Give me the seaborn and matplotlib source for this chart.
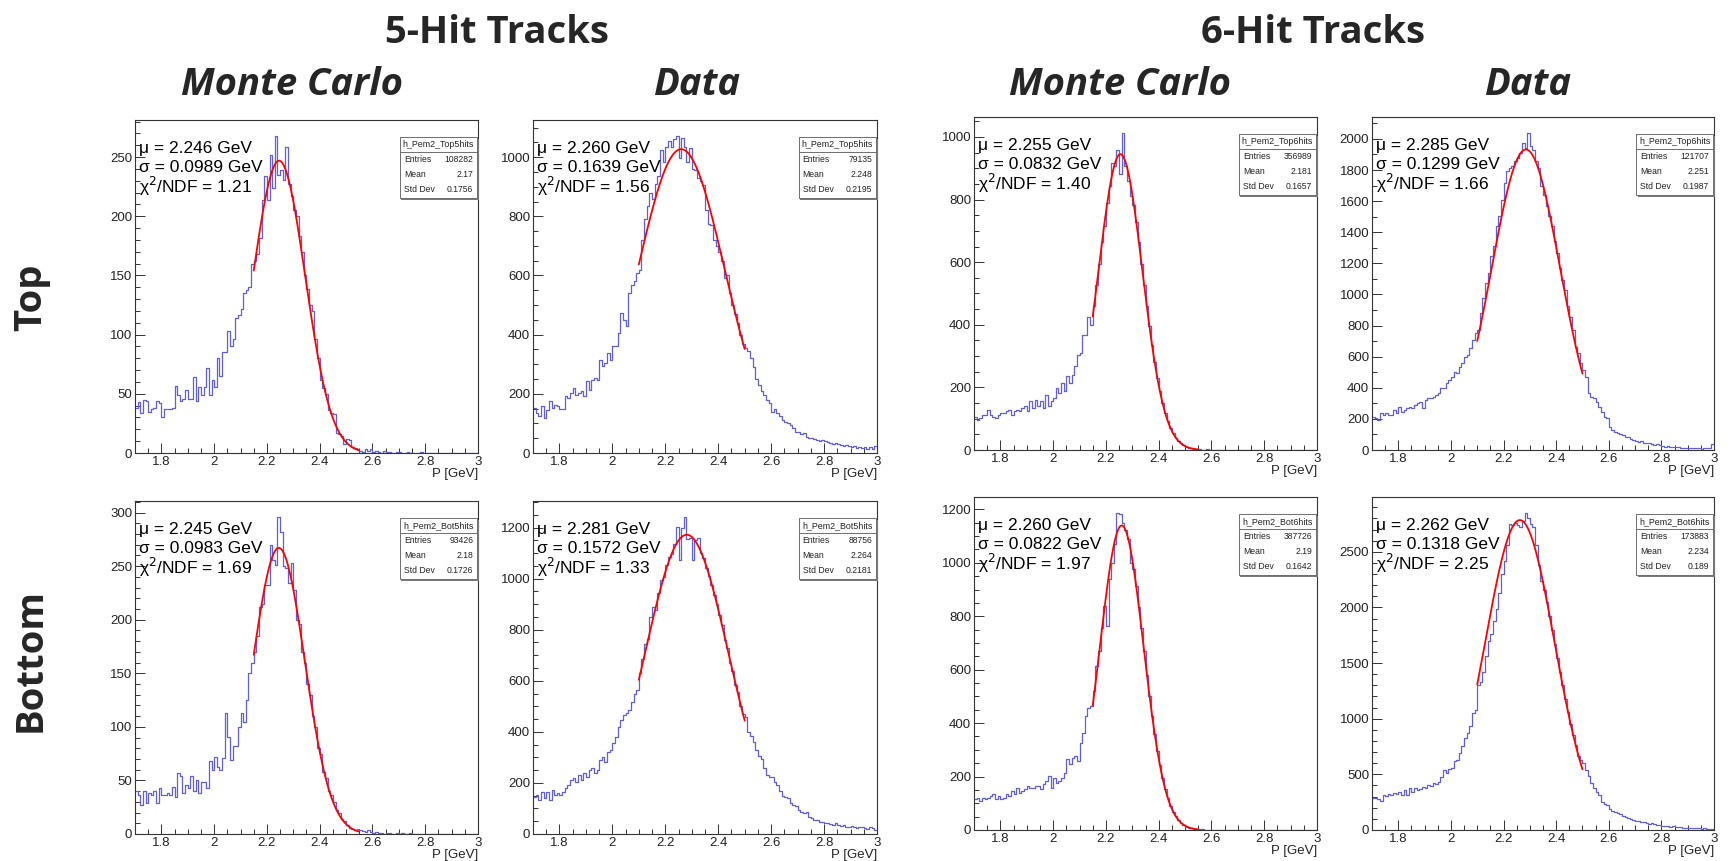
import numpy as np
import pandas as pd
import matplotlib
matplotlib.use("Agg")
import matplotlib.pyplot as plt
import seaborn as sns
from matplotlib.ticker import MultipleLocator, FuncFormatter
from matplotlib.patches import Rectangle

sns.set_theme(style="white")
plt.rcParams["font.family"] = ["Liberation Sans", "DejaVu Sans"]

# momentum binning (1.70 - 3.00 GeV, 0.01 GeV bins)
P_LO, P_HI, P_BIN = 1.7, 3.0, 0.01
centers = np.round(P_LO + P_BIN * (np.arange(130) + 0.5), 4)

# ---- histogram contents ----
top5_mc = [
    38, 43, 34, 45, 44, 35, 37, 38, 44, 42,
    30, 37, 37, 37, 38, 57, 49, 44, 46, 53,
    46, 46, 64, 44, 56, 49, 56, 72, 49, 62,
    56, 80, 65, 85, 85, 103, 90, 96, 114, 117,
    122, 135, 138, 140, 160, 162, 168, 182, 214, 234,
    214, 252, 224, 268, 235, 239, 231, 259, 227, 217,
    205, 200, 183, 170, 150, 139, 125, 120, 96, 80,
    62, 55, 50, 36, 34, 33, 17, 16, 14, 8,
    12, 11, 5, 4, 3, 2, 1, 3, 2, 3,
    1, 2, 1, 0, 2, 1, 1, 0, 0, 1,
    1, 0, 0, 1, 0, 0, 0, 0, 1, 0,
    0, 0, 0, 0, 0, 0, 0, 0, 0, 0,
    0, 0, 0, 0, 0, 0, 0, 0, 0, 0,
]
top5_data = [
    152, 135, 124, 158, 118, 146, 175, 152, 163, 158,
    149, 149, 191, 186, 203, 220, 197, 203, 208, 191,
    242, 214, 248, 253, 248, 315, 293, 304, 338, 315,
    360, 360, 405, 473, 450, 428, 541, 569, 580, 608,
    620, 720, 790, 835, 880, 860, 910, 935, 1025, 985,
    1036, 1053, 1036, 1060, 1072, 997, 1064, 1036, 985, 1030,
    960, 955, 930, 920, 905, 820, 775, 770, 720, 700,
    680, 650, 590, 600, 540, 500, 470, 440, 400, 370,
    355, 345, 320, 290, 250, 230, 210, 195, 180, 170,
    140, 150, 135, 125, 110, 105, 100, 95, 85, 70,
    72, 65, 68, 55, 50, 52, 48, 45, 42, 45,
    40, 38, 35, 32, 35, 30, 28, 25, 26, 22,
    20, 24, 18, 20, 17, 19, 15, 20, 14, 22,
]
top6_mc = [
    107, 96, 101, 112, 112, 128, 112, 107, 101, 112,
    117, 117, 123, 128, 112, 123, 128, 123, 133, 139,
    123, 155, 133, 160, 139, 155, 133, 176, 139, 155,
    165, 197, 181, 213, 187, 235, 213, 240, 267, 304,
    309, 368, 368, 426, 400, 460, 526, 595, 664, 715,
    789, 843, 917, 906, 959, 880, 1013, 906, 858, 810,
    784, 729, 664, 595, 526, 460, 395, 335, 280, 230,
    187, 149, 118, 92, 70, 53, 39, 29, 21, 15,
    10, 7, 5, 3, 2, 2, 1, 1, 2, 1,
    1, 0, 1, 0, 0, 1, 0, 0, 0, 0,
    0, 0, 0, 0, 0, 0, 0, 0, 0, 0,
    0, 0, 0, 0, 0, 0, 0, 0, 0, 0,
    0, 0, 0, 0, 0, 0, 0, 0, 0, 0,
]
top6_data = [
    215, 204, 193, 236, 225, 236, 225, 225, 258, 236,
    279, 247, 258, 268, 279, 268, 290, 300, 311, 268,
    322, 333, 337, 343, 354, 365, 397, 397, 429, 451,
    472, 504, 494, 536, 558, 601, 612, 654, 708, 751,
    773, 880, 976, 1073, 1137, 1245, 1309, 1438, 1502, 1609,
    1717, 1792, 1813, 1824, 1856, 1878, 1910, 1974, 1942, 2039,
    1953, 1931, 1856, 1813, 1695, 1642, 1567, 1502, 1438, 1341,
    1266, 1170, 1094, 1030, 923, 858, 773, 665, 622, 558,
    515, 472, 365, 343, 333, 311, 279, 247, 215, 204,
    150, 129, 118, 107, 103, 97, 86, 82, 69, 64,
    60, 54, 58, 47, 43, 45, 39, 32, 36, 30,
    26, 21, 28, 22, 17, 20, 18, 16, 13, 15,
    14, 12, 15, 11, 12, 9, 13, 10, 11, 40,
]
bot5_mc = [
    40, 36, 27, 40, 29, 38, 36, 40, 29, 43,
    36, 36, 38, 36, 44, 35, 57, 54, 38, 46,
    43, 54, 40, 50, 38, 49, 49, 43, 68, 60,
    72, 63, 60, 71, 113, 91, 69, 82, 82, 100,
    113, 105, 125, 150, 160, 170, 185, 212, 215, 232,
    232, 270, 256, 251, 296, 282, 250, 248, 234, 253,
    228, 200, 196, 170, 160, 140, 130, 110, 100, 80,
    75, 58, 52, 40, 36, 30, 22, 20, 14, 12,
    8, 6, 5, 4, 5, 4, 3, 2, 4, 2,
    1, 2, 1, 1, 0, 1, 1, 0, 0, 1,
    0, 1, 0, 0, 1, 0, 0, 0, 0, 0,
    0, 0, 0, 0, 0, 0, 0, 0, 0, 0,
    0, 0, 0, 0, 0, 0, 0, 0, 0, 0,
]
bot5_data = [
    146, 153, 133, 166, 140, 166, 133, 172, 153, 159,
    153, 166, 179, 192, 211, 218, 205, 231, 211, 237,
    224, 250, 257, 237, 250, 290, 303, 283, 322, 329,
    355, 381, 420, 446, 466, 472, 485, 518, 550, 563,
    629, 687, 746, 762, 850, 890, 876, 942, 994, 1007,
    1053, 1085, 1098, 1137, 1203, 1072, 1200, 1242, 1157, 1160,
    1072, 1150, 1160, 1100, 1080, 1043, 1010, 975, 935, 900,
    858, 820, 760, 730, 670, 640, 585, 555, 500, 470,
    460, 400, 385, 360, 330, 305, 295, 260, 230, 225,
    224, 205, 190, 170, 150, 146, 140, 120, 113, 110,
    94, 85, 81, 87, 68, 61, 55, 55, 48, 48,
    42, 44, 40, 35, 42, 35, 31, 35, 29, 26,
    31, 29, 22, 26, 29, 22, 18, 26, 22, 15,
]
bot6_mc = [
    115, 121, 109, 121, 115, 121, 127, 133, 115, 127,
    115, 121, 133, 127, 146, 133, 158, 140, 146, 152,
    165, 158, 158, 165, 165, 152, 171, 183, 202, 158,
    196, 177, 183, 196, 215, 264, 246, 271, 277, 258,
    327, 364, 427, 458, 464, 520, 614, 670, 755, 840,
    763, 940, 1000, 1069, 1187, 1181, 1150, 1121, 1090, 1000,
    978, 914, 835, 755, 670, 580, 502, 428, 358, 297,
    242, 195, 152, 118, 90, 69, 51, 37, 27, 19,
    13, 9, 6, 4, 3, 2, 2, 1, 1, 1,
    1, 0, 1, 0, 0, 0, 0, 0, 0, 0,
    0, 0, 0, 0, 0, 0, 0, 0, 0, 0,
    0, 0, 0, 0, 0, 0, 0, 0, 0, 0,
    0, 0, 0, 0, 0, 0, 0, 0, 0, 0,
]
bot6_data = [
    285, 285, 276, 264, 315, 306, 324, 315, 330, 321,
    345, 315, 360, 315, 375, 345, 375, 360, 366, 390,
    375, 405, 396, 420, 414, 435, 480, 540, 510, 547,
    556, 616, 631, 691, 751, 826, 871, 931, 1052, 1082,
    1300, 1330, 1420, 1560, 1700, 1760, 1880, 1990, 2130, 2300,
    2420, 2560, 2750, 2745, 2760, 2740, 2719, 2779, 2850, 2800,
    2750, 2719, 2560, 2385, 2240, 2161, 2052, 1920, 1801, 1670,
    1548, 1418, 1306, 1180, 1058, 956, 850, 760, 667, 631,
    600, 540, 481, 420, 375, 345, 315, 250, 230, 225,
    185, 175, 165, 150, 140, 125, 120, 105, 95, 90,
    80, 78, 75, 68, 62, 58, 60, 50, 45, 45,
    40, 35, 38, 30, 32, 28, 25, 28, 22, 20,
    22, 18, 20, 15, 18, 12, 15, 10, 12, 8,
]

# ---- Gaussian fit results and ROOT stat box contents (same panel order) ----
panel_counts = [top5_mc, top5_data, top6_mc, top6_data,
                bot5_mc, bot5_data, bot6_mc, bot6_data]
fit_mu = [2.246, 2.260, 2.255, 2.285, 2.245, 2.281, 2.260, 2.262]
fit_sigma = [0.0989, 0.1639, 0.0832, 0.1299, 0.0983, 0.1572, 0.0822, 0.1318]
fit_amp = [247, 1027, 945, 1932, 267, 1172, 1140, 2785]
fit_lo = [2.15, 2.10, 2.15, 2.10, 2.15, 2.10, 2.15, 2.10]
fit_hi = [2.55, 2.50, 2.55, 2.50, 2.55, 2.50, 2.55, 2.50]
chi2_ndf = ["1.21", "1.56", "1.40", "1.66", "1.69", "1.33", "1.97", "2.25"]
hist_names = ["h_Pem2_Top5hits", "h_Pem2_Top5hits", "h_Pem2_Top6hits", "h_Pem2_Top6hits",
              "h_Pem2_Bot5hits", "h_Pem2_Bot5hits", "h_Pem2_Bot6hits", "h_Pem2_Bot6hits"]
entries = ["108282", "79135", "356989", "121707", "93426", "88756", "387726", "173883"]
means = ["2.17", "2.248", "2.181", "2.251", "2.18", "2.264", "2.19", "2.234"]
std_devs = ["0.1756", "0.2195", "0.1657", "0.1987", "0.1726", "0.2181", "0.1642", "0.189"]
y_major = [50, 200, 200, 200, 50, 200, 200, 500]
y_minor = [10, 50, 50, 100, 10, 50, 50, 100]

col_titles = ["Monte Carlo", "Data", "Monte Carlo", "Data"]
group_titles = ["5-Hit Tracks", "6-Hit Tracks"]
row_titles = ["Top", "Bottom"]

# ---- layout (pixels in a 1728 x 861 canvas) ----
W, H = 1728, 861
col_left = [135, 533, 974, 1372]
col_width = [343, 344, 343, 342]
row_top = [[120, 120, 117, 117], [501, 501, 497, 497]]
panel_h = 333

HIST_COLOR = "#6060d4"
HEAD_FONT = ["Liberation Sans Narrow", "Open Sans", "DejaVu Sans"]

fig = plt.figure(figsize=(W / 100, H / 100), dpi=100)
fig.patch.set_facecolor("white")


def stats_box(ax, name, n, mean, std):
    x0, x1, y0, y1 = 0.772, 0.998, 0.765, 0.948
    ax.add_patch(Rectangle((x0 + 0.0045, y0 - 0.0055), x1 - x0, y1 - y0,
                           transform=ax.transAxes, facecolor="#7a7a7a",
                           edgecolor="none", zorder=4, clip_on=False))
    ax.add_patch(Rectangle((x0, y0), x1 - x0, y1 - y0, transform=ax.transAxes,
                           facecolor="white", edgecolor="#6e6e6e", lw=0.7, zorder=5))
    ax.plot([x0, x1], [0.904, 0.904], transform=ax.transAxes,
            color="#6e6e6e", lw=0.7, zorder=6)
    ax.text((x0 + x1) / 2, 0.926, name, transform=ax.transAxes, ha="center",
            va="center", fontsize=6.4, color="#222", zorder=7)
    for yy, lab, val in zip([0.880, 0.835, 0.790], ["Entries", "Mean", "Std Dev"],
                            [n, mean, std]):
        ax.text(x0 + 0.012, yy, lab, transform=ax.transAxes, ha="left",
                va="center", fontsize=6.2, color="#222", zorder=7)
        ax.text(x1 - 0.012, yy, val, transform=ax.transAxes, ha="right",
                va="center", fontsize=6.2, color="#222", zorder=7)


for i, counts in enumerate(panel_counts):
    r, c = divmod(i, 4)
    left = col_left[c] / W
    bottom = 1 - (row_top[r][c] + panel_h) / H
    ax = fig.add_axes([left, bottom, col_width[c] / W, panel_h / H])

    hist_df = pd.DataFrame({"p": centers, "n": np.asarray(counts, dtype=float)})
    sns.histplot(data=hist_df, x="p", weights="n", binwidth=P_BIN,
                 binrange=(P_LO, P_HI), element="step", fill=False,
                 color=HIST_COLOR, linewidth=0.9, ax=ax)

    # Gaussian fit curve over the fitted range
    xf = np.linspace(fit_lo[i], fit_hi[i], 300)
    yf = fit_amp[i] * np.exp(-0.5 * ((xf - fit_mu[i]) / fit_sigma[i]) ** 2)
    sns.lineplot(x=xf, y=yf, color="red", linewidth=1.3, ax=ax)

    ax.set_xlim(P_LO, P_HI)
    ax.set_ylim(0, 1.05 * max(counts))
    ax.set_xlabel("")
    ax.set_ylabel("")
    ax.set_facecolor("white")
    for sp in ax.spines.values():
        sp.set_visible(True)
        sp.set_color("#333333")
        sp.set_linewidth(0.8)

    ax.xaxis.set_major_locator(MultipleLocator(0.2))
    ax.xaxis.set_minor_locator(MultipleLocator(0.05))
    ax.xaxis.set_major_formatter(FuncFormatter(lambda v, p: f"{v:g}"))
    ax.yaxis.set_major_locator(MultipleLocator(y_major[i]))
    ax.yaxis.set_minor_locator(MultipleLocator(y_minor[i]))
    ax.yaxis.set_major_formatter(FuncFormatter(lambda v, p: f"{v:g}"))
    ax.tick_params(which="both", direction="in", top=False, right=False,
                   bottom=True, left=True, color="#333333", width=0.7,
                   labelsize=9.5, labelcolor="#222222")
    ax.tick_params(which="major", length=7, pad=2)
    ax.tick_params(which="minor", length=3.5)

    ax.text(1.0, -0.062, "P [GeV]", transform=ax.transAxes, ha="right",
            va="center", fontsize=9.5, color="#222")

    for k, line in enumerate([f"\u03bc = {fit_mu[i]:.3f} GeV",
                              f"\u03c3 = {fit_sigma[i]:.4f} GeV",
                              f"\u03c7$^2$/NDF = {chi2_ndf[i]}"]):
        ax.text(0.012, 0.915 - 0.057 * k, line, transform=ax.transAxes,
                ha="left", va="center", fontsize=12.5, color="black", zorder=8)

    stats_box(ax, hist_names[i], entries[i], means[i], std_devs[i])

# ---- headings ----
for x, t in zip([497, 1313], group_titles):
    fig.text(x / W, 1 - 43 / H, t, ha="center", va="baseline", fontsize=27.5,
             fontweight="bold", family=HEAD_FONT)
for x, t in zip([292, 697, 1120, 1528], col_titles):
    fig.text(x / W, 1 - 95 / H, t, ha="center", va="baseline", fontsize=27.5,
             fontweight="bold", fontstyle="italic", family=HEAD_FONT)
for y, t in zip([297, 660], row_titles):
    fig.text(31 / W, 1 - y / H, t, ha="center", va="center", rotation=90,
             fontsize=27.5, fontweight="bold", family=HEAD_FONT)

fig.savefig("out.png", dpi=100, facecolor="white")
